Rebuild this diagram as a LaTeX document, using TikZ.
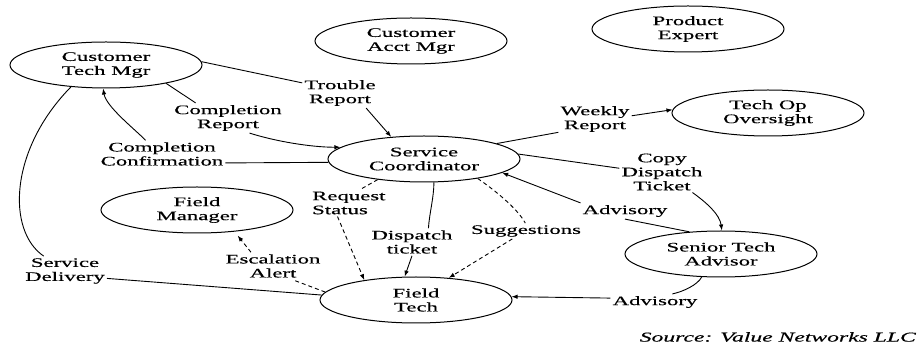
\documentclass[tikz,border=0pt]{standalone}
\usepackage{fontspec}
\setmainfont{Liberation Serif}[FakeStretch=1.75,FakeBold=0.4]
\usetikzlibrary{shapes.geometric,arrows.meta}

\begin{document}
\begin{tikzpicture}[x=1pt,y=-1pt,
  actor/.style={ellipse,draw,line width=1pt,minimum width=192pt,minimum height=46pt,
    inner sep=0pt,align=center,font=\fontsize{13}{14}\selectfont},
  lbl/.style={align=center,inner sep=2pt,font=\fontsize{13}{14}\selectfont},
  flow/.style={line width=0.9pt},
  msg/.style={flow,-{Latex[length=6pt,width=4.5pt]}},
  dashflow/.style={flow,dash pattern=on 4pt off 3pt}]
\useasboundingbox (0,0) rectangle (919,352);

% Roles
\node[actor] (ctm) at (106,65) {Customer\\Tech Mgr};
\node[actor] (cam) at (411,41) {Customer\\Acct Mgr};
\node[actor] (pe) at (688,29) {Product\\Expert};
\node[actor] (too) at (768,113) {Tech Op\\Oversight};
\node[actor] (sc) at (424,159) {Service\\Coordinator};
\node[actor] (fm) at (197,210) {Field\\Manager};
\node[actor] (sta) at (721,254) {Senior Tech\\Advisor};
\node[actor] (ft) at (416,300) {Field\\Tech};

% Deliverables
\node[lbl] (trouble) at (340,93) {Trouble\\Report};
\node[lbl] (compRep) at (228,118) {Completion\\Report};
\node[lbl] (compConf) at (162,154) {Completion\\Confirmation};
\node[lbl] (weekly) at (595,119) {Weekly\\Report};
\node[lbl] (copyDisp) at (662,172) {Copy\\Dispatch\\Ticket};
\node[lbl] (advUp) at (625,211) {Advisory};
\node[lbl] (sugg) at (526,231) {Suggestions};
\node[lbl,align=left,anchor=west] (reqStat) at (310,203) {Request\\Status};
\node[lbl] (dispTick) at (412,242) {Dispatch\\ticket};
\node[lbl] (escal) at (273,266) {Escalation\\Alert};
\node[lbl] (servDel) at (65,271) {Service\\Delivery};
\node[lbl] (advLow) at (655,302) {Advisory};
\node[lbl,anchor=east,font=\fontsize{13.5}{14}\selectfont\itshape] (src) at (918,337) {Source: Value Networks LLC};

% Customer side
\draw[flow] (ctm.2) -- (trouble.165);
\draw[msg] (trouble.-30) -- (sc.146);
\draw[flow] (ctm.-17) -- (compRep.155);
\draw[msg] (compRep.-35) .. controls +(25,8) and +(-30,0) .. (sc.172);
\draw[flow] (sc.182) -- (compConf.-8);
\draw[msg] (compConf.140) .. controls +(-12,-12) and +(3,18) .. (ctm.-97);
\draw[flow] (ctm.-148) .. controls +(-62,63) and +(-37,-25) .. (servDel.145);
\draw[flow] (servDel.-10) -- (ft.177);

% Oversight and advisor side
\draw[flow] (sc.12) -- (weekly.200);
\draw[msg] (weekly.5) -- (too.178);
\draw[flow] (sc.3) -- (copyDisp.175);
\draw[msg] (copyDisp.-34) .. controls +(14,10) and +(-2,-16) .. (sta.88);
\draw[msg] (advUp.north west) -- (sc.-10);
\draw[flow] (advUp.south) -- (sta.145);
\draw[flow] (sta.-130) .. controls +(-4,8) and +(10,-2) .. (advLow.25);
\draw[msg] (advLow.175) -- (ft.2);

% Field tech
\draw[dashflow] (sc.-156) -- (reqStat.50);
\draw[dashflow,msg] (reqStat.-130) -- (ft.159);
\draw[flow] (sc.-67) .. controls +(0,15) and +(1,-15) .. (dispTick.40);
\draw[msg] (dispTick.south) -- (ft.116);
\draw[dashflow] (sc.-20) .. controls +(15,10) and +(-8,-15) .. (sugg.95);
\draw[dashflow,msg] (sugg.-150) -- (ft.34);
\draw[dashflow] (ft.175) -- (escal.-35);
\draw[dashflow,msg,shorten >=5pt] (escal.148) -- (fm.-30);
\end{tikzpicture}
\end{document}
